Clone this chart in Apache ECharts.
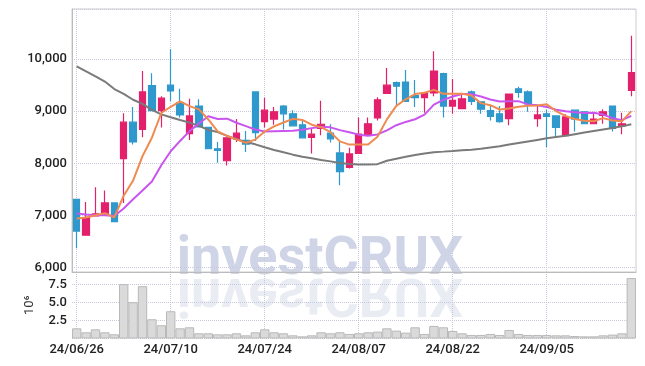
<!DOCTYPE html>
<html><head><meta charset="utf-8">
<script src="https://cdn.jsdelivr.net/npm/echarts@6/dist/echarts.min.js"></script>
<style>html,body{margin:0;padding:0;background:#fff}#c{width:645px;height:366px}</style>
</head><body><div id="c"></div>
<script>
const dates = ['24/06/26','24/06/27','24/06/28','24/07/01','24/07/02','24/07/03','24/07/04','24/07/05','24/07/08','24/07/09',
'24/07/10','24/07/11','24/07/12','24/07/15','24/07/16','24/07/17','24/07/18','24/07/19','24/07/22','24/07/23',
'24/07/24','24/07/25','24/07/26','24/07/29','24/07/30','24/07/31','24/08/01','24/08/02','24/08/05','24/08/06',
'24/08/07','24/08/08','24/08/09','24/08/12','24/08/13','24/08/14','24/08/16','24/08/19','24/08/20','24/08/21',
'24/08/22','24/08/23','24/08/26','24/08/27','24/08/28','24/08/29','24/08/30','24/09/02','24/09/03','24/09/04',
'24/09/05','24/09/06','24/09/09','24/09/10','24/09/11','24/09/12','24/09/13','24/09/19','24/09/20','24/09/23'];
const openV = [7310,6620,6990,7030,7240,8090,8790,8650,9490,9010,
9500,9160,8570,9100,8690,8280,8050,8470,8440,9370,
8800,8850,9100,8950,8740,8500,8670,8580,8200,7920,
8190,8550,8870,9340,9550,9560,9300,9260,9350,9720,
9100,9050,9370,9180,9010,8950,8860,9430,9370,8860,
8950,8910,8530,9020,8990,8760,8920,9100,8720,9400];
const closeV = [6700,6960,7030,7240,6880,8790,8410,9370,9010,9250,
9390,8930,8910,8700,8280,8250,8490,8580,8370,8590,
9020,8990,8950,8720,8490,8560,8750,8470,7840,8180,
8560,8760,9220,9500,9480,9190,9260,9350,9770,9100,
9210,9240,9190,9040,8900,8800,9330,9360,9140,8930,
8900,8690,8890,8850,8760,8850,8990,8670,8760,9740];
const highV = [7320,7260,7540,7480,7240,8960,9080,9770,9730,9290,
10190,9430,9240,9230,8700,8410,8500,8850,8620,9380,
9260,9080,9120,9020,8830,8660,9200,8750,8450,8300,
8880,8880,9270,9830,9570,9790,9600,9360,10150,9740,
9620,9350,9400,9190,9100,9100,9340,9470,9400,9120,
9030,8920,8940,9030,8990,8960,9040,9110,8970,10450];
const lowV = [6370,6610,6980,7010,6870,7240,8360,8500,9000,8690,
9190,8880,8450,8700,8270,8010,7960,8410,8220,8430,
8690,8740,8650,8710,8490,8190,8540,8400,7580,7900,
8180,8520,8820,9330,9120,9180,9080,8970,9290,8880,
8950,9040,9120,8950,8820,8780,8730,9260,8990,8700,
8310,8500,8520,8610,8750,8750,8760,8610,8560,9290];
const ma5 = [6940,6960,7005,7045,6962,7380,7670,8138,8492,8966,
9086,9190,9098,9036,8842,8614,8526,8460,8394,8456,
8610,8710,8784,8854,8834,8742,8694,8598,8422,8360,
8360,8362,8512,8844,9104,9230,9330,9356,9410,9334,
9338,9334,9302,9156,9116,9034,9052,9086,9106,9112,
9132,9004,8910,8852,8818,8808,8868,8824,8806,9002];
const ma10 = [7040,7020,7005,7005,6990,7135,7310,7480,7650,7964,
8233,8430,8618,8764,8904,8850,8858,8779,8715,8649,
8612,8618,8622,8624,8645,8676,8702,8691,8638,8597,
8551,8528,8555,8633,8732,8795,8846,8934,9127,9219,
9284,9332,9329,9283,9225,9186,9193,9194,9131,9114,
9083,9028,8998,8979,8965,8970,8936,8867,8829,8910];
const maLong = [9860,9765,9670,9570,9425,9335,9220,9140,9025,8940,
8885,8833,8782,8718,8641,8600,8526,8462,8410,8365,
8308,8256,8212,8167,8128,8096,8064,8038,8006,7987,
7980,7980,7985,8050,8090,8125,8160,8190,8215,8225,
8237,8250,8262,8280,8305,8330,8360,8390,8420,8450,
8480,8505,8530,8560,8590,8620,8650,8680,8710,8750];
const volume = [1.41,0.86,1.27,0.86,0.58,7.52,5.02,7.24,2.66,1.83,
3.77,1.41,1.55,0.72,0.72,0.58,0.58,0.72,0.44,0.86,
1.27,0.86,0.72,0.44,0.30,0.44,0.86,0.72,0.86,0.63,
0.72,0.86,0.95,1.41,1.09,0.81,1.55,0.63,1.74,1.55,
1.04,0.72,0.49,0.49,0.63,0.49,1.18,0.63,0.49,0.49,
0.49,0.44,0.44,0.35,0.30,0.30,0.44,0.54,0.72,8.36];

const FONT = 'Roboto, sans-serif';
const GRIDC = '#c6c9dd';
const candle = dates.map((d, i) => [openV[i], closeV[i], lowV[i], highV[i]]);
const chart = echarts.init(document.getElementById('c'));
const labelStyle = {color: '#222', fontFamily: FONT, fontSize: 13, fontWeight: 500};
const WM_FONT = 'bold 54px Roboto, sans-serif';
chart.setOption({
  animation: false,
  grid: [
    {left: 72, right: 9, top: 9, height: 263, show: true, borderColor: '#ccc', borderWidth: 1},
    {left: 72, right: 9, top: 272, height: 66.5}
  ],
  xAxis: [
    {type: 'category', data: dates, gridIndex: 0, boundaryGap: true,
     axisLine: {show: true, lineStyle: {color: '#bbb'}}, axisTick: {show: false}, axisLabel: {show: false},
     splitLine: {show: true, interval: 9, alignWithLabel: true, lineStyle: {type: 'dotted', color: GRIDC}}},
    {type: 'category', data: dates, gridIndex: 1, boundaryGap: true,
     axisLine: {show: false}, axisTick: {show: false},
     axisLabel: Object.assign({interval: 9, margin: 5}, labelStyle),
     splitLine: {show: true, interval: 9, alignWithLabel: true, lineStyle: {type: 'dotted', color: GRIDC}}}
  ],
  yAxis: [
    {type: 'value', gridIndex: 0, min: 5915, max: 10962, splitNumber: 5,
     axisLine: {show: true, lineStyle: {color: '#bbb'}}, axisTick: {show: false},
     axisLabel: Object.assign({showMinLabel: false, showMaxLabel: false, margin: 5,
       formatter: v => v.toLocaleString('en-US')}, labelStyle),
     splitLine: {show: true, lineStyle: {type: 'dotted', color: GRIDC}}},
    {type: 'value', gridIndex: 1, min: 0, max: 9.2, interval: 2.5,
     name: '10\u2076', nameLocation: 'middle', nameGap: 36, nameRotate: 90,
     nameTextStyle: {color: '#333', fontFamily: FONT, fontSize: 13},
     axisLine: {show: false}, axisTick: {show: false},
     axisLabel: Object.assign({showMinLabel: false, showMaxLabel: false, margin: 5,
       formatter: v => v.toFixed(1)}, labelStyle),
     splitLine: {show: true, lineStyle: {type: 'dotted', color: GRIDC}}}
  ],
  graphic: [
    {type: 'text', x: 320, y: 260, z: -10, silent: true,
     style: {text: 'investCRUX', font: WM_FONT, fill: '#cfd4e7', align: 'center', verticalAlign: 'middle'}},
    {type: 'text', x: 320, y: 292, scaleY: -1, z: -10, silent: true,
     style: {text: 'investCRUX', font: WM_FONT, fill: 'rgba(214,217,234,0.5)', align: 'center', verticalAlign: 'middle'}}
  ],
  series: [
    {type: 'candlestick', xAxisIndex: 0, yAxisIndex: 0, data: candle, barWidth: 7,
     itemStyle: {color: '#e3206b', color0: '#2f98cc', borderColor: '#e3206b', borderColor0: '#2f98cc', borderWidth: 1.2}},
    {type: 'line', xAxisIndex: 0, yAxisIndex: 0, data: maLong, symbol: 'none', lineStyle: {color: '#7a7a7a', width: 2}},
    {type: 'line', xAxisIndex: 0, yAxisIndex: 0, data: ma10, symbol: 'none', lineStyle: {color: '#c955ee', width: 2}},
    {type: 'line', xAxisIndex: 0, yAxisIndex: 0, data: ma5, symbol: 'none', lineStyle: {color: '#ef8a50', width: 2}},
    {type: 'bar', xAxisIndex: 1, yAxisIndex: 1, data: volume, barCategoryGap: '0%',
     itemStyle: {color: '#dadada', borderColor: '#b9b9b9', borderWidth: 1}}
  ]
});
</script></body></html>
